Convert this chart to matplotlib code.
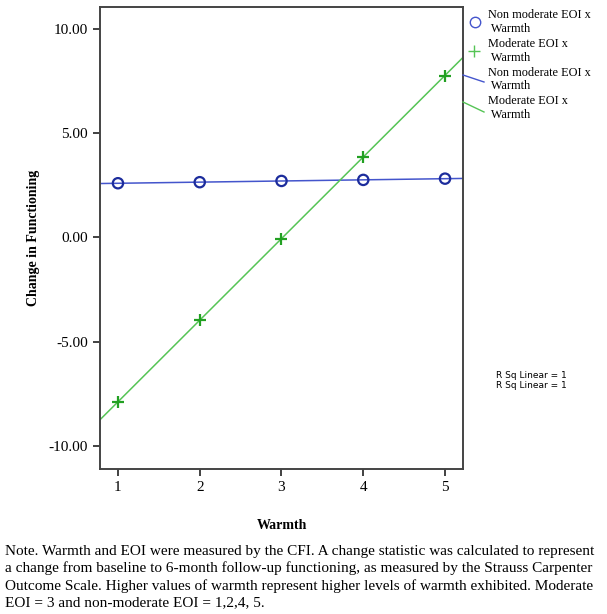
import numpy as np
import matplotlib
matplotlib.use("Agg")
import matplotlib.pyplot as plt
from matplotlib.lines import Line2D

# Data
warmth = [1, 2, 3, 4, 5]
non_moderate = [2.60, 2.65, 2.71, 2.76, 2.82]
moderate = [-7.90, -3.95, -0.05, 3.88, 7.75]

yticks = [-10, -5, 0, 5, 10]
legend_labels = ["Non moderate EOI x\n Warmth", "Moderate EOI x\n Warmth",
                 "Non moderate EOI x\n Warmth", "Moderate EOI x\n Warmth"]
caption = ("Note. Warmth and EOI were measured by the CFI. A change statistic was calculated to represent\n"
           "a change from baseline to 6-month follow-up functioning, as measured by the Strauss Carpenter\n"
           "Outcome Scale. Higher values of warmth represent higher levels of warmth exhibited. Moderate\n"
           "EOI = 3 and non-moderate EOI = 1,2,4, 5.")

blue_line = "#4455cc"
blue_mark = "#1c2c9c"
green_line = "#55c455"
green_mark = "#22a022"
serif = "Liberation Serif"

fig = plt.figure(figsize=(6.07, 6.14), dpi=100)
ax = fig.add_axes([0.1647, 0.2362, 0.5981, 0.7524])

xlim = (0.78, 5.22)
xs = np.array(xlim)

# fit lines (R sq linear = 1)
for vals, col in [(non_moderate, blue_line), (moderate, green_line)]:
    b, a = np.polyfit(warmth, vals, 1)
    ax.plot(xs, a + b * xs, color=col, lw=1.1, zorder=2)

ax.scatter(warmth, non_moderate, s=55, facecolors="none", edgecolors=blue_mark,
           linewidths=1.6, zorder=3)
ax.scatter(warmth, moderate, s=70, marker="+", color=green_mark,
           linewidths=1.6, zorder=3)

ax.set_xlim(*xlim)
ax.set_ylim(-11.1, 11.05)
ax.set_xticks(warmth)
ax.set_yticks(yticks)
ax.set_yticklabels(["%.2f" % v for v in yticks])
for lab in ax.get_xticklabels() + ax.get_yticklabels():
    lab.set_fontfamily(serif)
    lab.set_fontsize(11)
ax.tick_params(direction="out", length=5, width=1.3, color="#333333")
for sp in ax.spines.values():
    sp.set_color("#444444")
    sp.set_linewidth(1.4)

ax.set_xlabel("Warmth", fontfamily=serif, fontweight="bold", fontsize=10, labelpad=18)
ax.set_ylabel("Change in Functioning", fontfamily=serif, fontweight="bold", fontsize=10,
              labelpad=6)

# legend drawn by hand, SPSS style
W, H = 607, 614
def fx(px): return px / W
def fy(py): return 1 - py / H

fig.add_artist(Line2D([fx(475)], [fy(22)], marker="o", markersize=7.5, mfc="none",
                      mec=blue_line, mew=1.0, transform=fig.transFigure))
fig.add_artist(Line2D([fx(474)], [fy(51)], marker="+", markersize=8,
                      color=green_line, mew=1.0, transform=fig.transFigure))
fig.add_artist(Line2D([fx(463), fx(484)], [fy(75), fy(82)], color=blue_line, lw=1.0,
                      transform=fig.transFigure))
fig.add_artist(Line2D([fx(463), fx(484)], [fy(102), fy(112)], color=green_line, lw=1.0,
                      transform=fig.transFigure))
for i, lab in enumerate(legend_labels):
    fig.text(fx(488), fy(9.5 + i * 28.5), lab, fontfamily=serif, fontsize=8.8,
             va="top", ha="left", linespacing=1.22)

fig.text(fx(496), fy(375), "R Sq Linear = 1", fontsize=6.5, va="center", ha="left")
fig.text(fx(496), fy(385), "R Sq Linear = 1", fontsize=6.5, va="center", ha="left")

fig.text(fx(5), fy(545), caption, fontfamily=serif, fontsize=11, va="top", ha="left",
         linespacing=1.34)

fig.savefig("out.png", dpi=100)
